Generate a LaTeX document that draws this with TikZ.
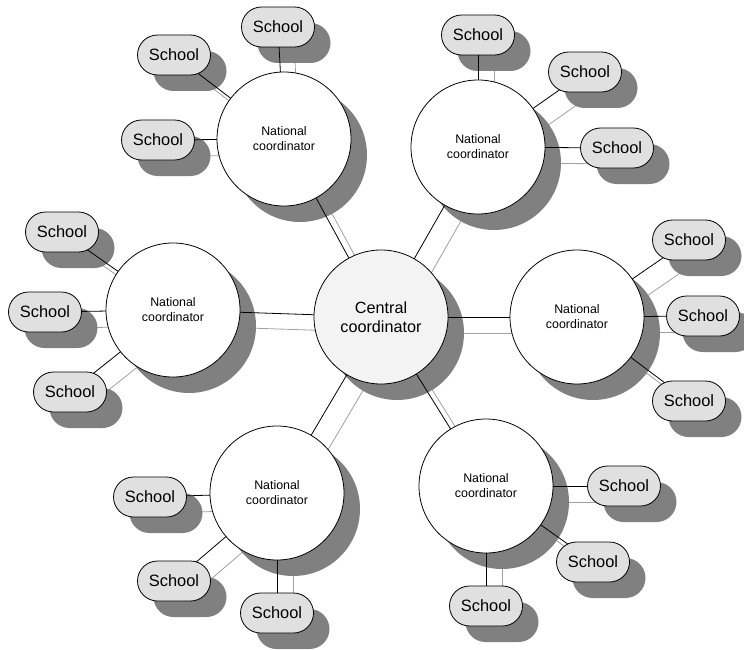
\documentclass[tikz,border=0pt]{standalone}
\usepackage{fontspec}
\setmainfont{Liberation Sans}
\definecolor{schoolfill}{HTML}{E0E0E0}
\definecolor{centralfill}{HTML}{F3F3F3}
\definecolor{shadowc}{HTML}{808080}
\definecolor{shlinec}{HTML}{A0A0A0}
\pgfdeclarelayer{shlines}
\pgfdeclarelayer{shadow}
\pgfdeclarelayer{lines}
\pgfsetlayers{shlines,shadow,lines,main}
\tikzset{
  natl/.style={circle,draw=black,fill=white,line width=0.8pt,minimum size=134pt,inner sep=0pt,align=center,
    font=\fontsize{12.4}{15}\selectfont},
  central/.style={natl,fill=centralfill,font=\fontsize{16.2}{19}\selectfont},
  school/.style={rectangle,rounded corners=20pt,draw=black,fill=schoolfill,line width=0.8pt,
    minimum width=73pt,minimum height=40pt,inner sep=0pt,font=\fontsize{16.4}{19}\selectfont},
  shadowfill/.style={fill=shadowc},
  conn/.style={draw=black,line width=0.8pt},
  shconn/.style={draw=shlinec,line width=0.8pt},
}
\newcommand\natnode[4]{%
  \node[#4] (#1) at (#2,#3) {};%
  \begin{pgfonlayer}{shadow}\fill[shadowfill] ([shift={(16,16)}]#1.center) circle[radius=67pt];\end{pgfonlayer}}
\newcommand\schoolnode[3]{%
  \node[school] (#1) at (#2,#3) {School};%
  \begin{pgfonlayer}{shadow}\fill[shadowfill,rounded corners=20pt] ([shift={(-20.5,-4)}]#1.center) rectangle ([shift={(52.5,36)}]#1.center);\end{pgfonlayer}}
\newcommand\linknodes[2]{%
  \begin{pgfonlayer}{lines}\draw[conn] (#1.center) -- (#2.center);\end{pgfonlayer}%
  \begin{pgfonlayer}{shlines}\draw[shconn] ([shift={(16,16)}]#1.center) -- ([shift={(16,16)}]#2.center);\end{pgfonlayer}}
\begin{document}
\begin{tikzpicture}[x=1pt,y=-1pt]
\useasboundingbox (0,0) rectangle (744,650);
% central
\node[central] (c) at (381,317) {Central\\coordinator};
\begin{pgfonlayer}{shadow}\fill[shadowfill] ([shift={(16,16)}]c.center) circle[radius=67pt];\end{pgfonlayer}
% national coordinators
\node[natl] (ntl) at (284,139) {National\\coordinator};
\node[natl] (ntr) at (478,147) {National\\coordinator};
\node[natl] (nl) at (173,310) {National\\coordinator};
\node[natl] (nr) at (577,317) {National\\coordinator};
\node[natl] (nbl) at (277,493) {National\\coordinator};
\node[natl] (nbr) at (486,486) {National\\coordinator};
\begin{pgfonlayer}{shadow}
\foreach \n in {ntl,ntr,nl,nr,nbl,nbr}{\fill[shadowfill] ([shift={(16,16)}]\n.center) circle[radius=67pt];}
\end{pgfonlayer}
% schools
\schoolnode{s1}{278}{27}
\schoolnode{s2}{174}{55}
\schoolnode{s3}{158}{140}
\schoolnode{s4}{478}{35}
\schoolnode{s5}{585}{72}
\schoolnode{s6}{617}{148}
\schoolnode{s7}{62}{232}
\schoolnode{s8}{45}{312}
\schoolnode{s9}{70}{392}
\schoolnode{s10}{689}{240}
\schoolnode{s11}{703}{316}
\schoolnode{s12}{689}{401}
\schoolnode{s13}{150}{497}
\schoolnode{s14}{174}{581}
\schoolnode{s15}{277}{613}
\schoolnode{s16}{624}{486}
\schoolnode{s17}{593}{562}
\schoolnode{s18}{486}{606}
% links
\linknodes{c}{ntl}
\linknodes{c}{ntr}
\linknodes{c}{nl}
\linknodes{c}{nr}
\linknodes{c}{nbl}
\linknodes{c}{nbr}
\linknodes{ntl}{s1}
\linknodes{ntl}{s2}
\linknodes{ntl}{s3}
\linknodes{ntr}{s4}
\linknodes{ntr}{s5}
\linknodes{ntr}{s6}
\linknodes{nl}{s7}
\linknodes{nl}{s8}
\linknodes{nl}{s9}
\linknodes{nr}{s10}
\linknodes{nr}{s11}
\linknodes{nr}{s12}
\linknodes{nbl}{s13}
\linknodes{nbl}{s14}
\linknodes{nbl}{s15}
\linknodes{nbr}{s16}
\linknodes{nbr}{s17}
\linknodes{nbr}{s18}
\end{tikzpicture}
\end{document}
